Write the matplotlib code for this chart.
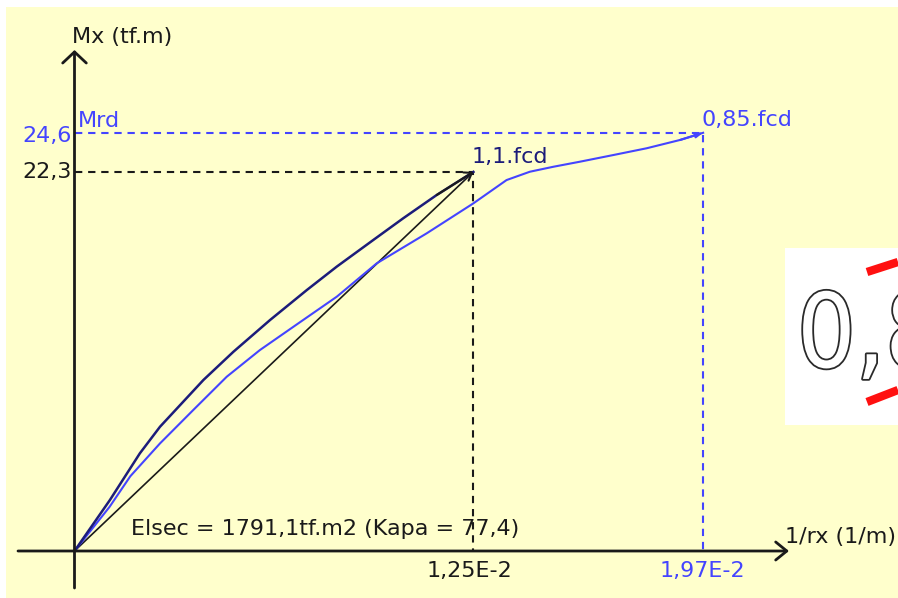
import matplotlib
matplotlib.use('Agg')
import matplotlib.pyplot as plt
from matplotlib.lines import Line2D
from matplotlib.patches import Rectangle
import matplotlib.patheffects as pe

# ---------------- data ----------------
curv_11 = [0, 0.00111, 0.00205, 0.00268, 0.00404, 0.00498, 0.00613, 0.00728,
           0.00822, 0.00936, 0.01030, 0.01135, 0.0125]
mom_11 = [0, 3.0, 5.75, 7.31, 10.06, 11.72, 13.59, 15.35, 16.73, 18.29,
          19.57, 20.94, 22.3]
curv_085 = [0, 0.0011, 0.00175, 0.00268, 0.00372, 0.00477, 0.00581, 0.00686,
            0.00822, 0.00947, 0.01104, 0.0125, 0.01354, 0.01427, 0.015,
            0.01584, 0.01688, 0.01793, 0.01898, 0.0197]
mom_085 = [0, 2.6, 4.4, 6.33, 8.29, 10.25, 11.82, 13.19, 14.96, 16.92,
           18.69, 20.45, 21.82, 22.31, 22.6, 22.9, 23.29, 23.69, 24.18, 24.6]
secant_curv = [0, 0.0125]
secant_mom = [0, 22.3]
k_11, m_11 = 0.0125, 22.3
k_rd, m_rd = 0.0197, 24.6
lbl_k11, lbl_krd = "1,25E-2", "1,97E-2"
lbl_m11, lbl_mrd = "22,3", "24,6"
lbl_fcd11, lbl_fcd085 = "1,1.fcd", "0,85.fcd"
lbl_y, lbl_x = "Mx (tf.m)", "1/rx (1/m)"
lbl_mrd_name = "Mrd"
lbl_info = "Elsec = 1791,1tf.m2 (Kapa = 77,4)"
lbl_inset = "0,8"

# ---------------- layout ----------------
W, H = 898, 598
PX0, PY0 = 74.5, 551.0     # pixel position of origin
SX, SY = 31910.0, 17.0     # pixels per data unit

BG = '#FFFFCC'
BLUE = '#4444FF'
NAVY = '#1C1C7A'
DARK = '#1a1a1a'
FS = 16

fig = plt.figure(figsize=(W / 100, H / 100), dpi=100)
fig.patch.set_facecolor('white')
fig.patches.append(Rectangle((6 / W, 0), 1, 1 - 7 / H, transform=fig.transFigure,
                             facecolor=BG, edgecolor='none', zorder=-10))
ax = fig.add_axes([0, 0, 1, 1], zorder=1)
ax.set_facecolor('none')
ax.patch.set_alpha(0)
ax.set_xlim(-PX0 / SX, (W - PX0) / SX)
ax.set_ylim(-(H - PY0) / SY, PY0 / SY)
ax.axis('off')


def px_x(px):
    return (px - PX0) / SX


def px_y(py):
    return (PY0 - py) / SY


# axes with open arrow heads
ax.annotate('', xy=(px_x(789), 0), xytext=(px_x(18), 0),
            arrowprops=dict(arrowstyle='->,head_length=0.8,head_width=0.65',
                            lw=2, color=DARK, mutation_scale=10,
                            shrinkA=0, shrinkB=0))
ax.annotate('', xy=(0, px_y(50)), xytext=(0, px_y(588)),
            arrowprops=dict(arrowstyle='->,head_length=0.8,head_width=0.85',
                            lw=2, color=DARK, mutation_scale=10,
                            shrinkA=0, shrinkB=0))

# dashed reference lines
dash = (0, (3.5, 2.8))
ax.plot([0, k_11, k_11], [m_11, m_11, 0], color=DARK, lw=1.5, linestyle=dash)
ax.plot([0, k_rd, k_rd], [m_rd, m_rd, 0], color=BLUE, lw=1.5, linestyle=dash)

# curves
ax.plot(secant_curv, secant_mom, color=DARK, lw=1.2)
ax.plot(curv_085, mom_085, color=BLUE, lw=1.5)
ax.plot(curv_11, mom_11, color=NAVY, lw=1.8)

# small arrow heads at curve ends
ax.annotate('', xy=(curv_11[-1], mom_11[-1]), xytext=(curv_11[-2], mom_11[-2]),
            arrowprops=dict(arrowstyle='->,head_length=0.5,head_width=0.35',
                            lw=1.5, color=DARK, mutation_scale=10,
                            shrinkA=0, shrinkB=0))
ax.annotate('', xy=(curv_085[-1], mom_085[-1]), xytext=(curv_085[-2], mom_085[-2]),
            arrowprops=dict(arrowstyle='-|>,head_length=0.4,head_width=0.15',
                            lw=1.5, color=BLUE, mutation_scale=10,
                            shrinkA=0, shrinkB=0))

tk = dict(textcoords='offset pixels', fontsize=FS, va='baseline')
ax.annotate(lbl_k11, xy=(k_11, 0), xytext=(-4, -26), ha='center', color=DARK, **tk)
ax.annotate(lbl_krd, xy=(k_rd, 0), xytext=(-1, -26), ha='center', color=BLUE, **tk)
ax.annotate(lbl_m11, xy=(0, m_11), xytext=(-3, -6), ha='right', color=DARK, **tk)
ax.annotate(lbl_mrd, xy=(0, m_rd), xytext=(-3, -9.5), ha='right', color=BLUE, **tk)
ax.annotate(lbl_mrd_name, xy=(0, m_rd), xytext=(3, 6), ha='left', color=BLUE, **tk)
ax.annotate(lbl_fcd11, xy=(k_11, m_11), xytext=(-2, 9), ha='left', color=NAVY, **tk)
ax.annotate(lbl_fcd085, xy=(k_rd, m_rd), xytext=(-2, 7), ha='left', color=BLUE, **tk)

ax.text(px_x(72), px_y(43), lbl_y, fontsize=FS, color=DARK, ha='left', va='baseline')
ax.text(px_x(785), px_y(543), lbl_x, fontsize=FS, color=DARK, ha='left', va='baseline')
ax.text(px_x(131), px_y(535), lbl_info, fontsize=FS, color=DARK, ha='left',
        va='baseline', zorder=1)

# pasted white inset on the right
ax2 = fig.add_axes([785 / W, 1 - 425 / H, (W - 785) / W, (425 - 248) / H], zorder=5)
ax2.set_xlim(0, 1)
ax2.set_ylim(0, 1)
ax2.set_facecolor('white')
for s in ax2.spines.values():
    s.set_visible(False)
ax2.set_xticks([])
ax2.set_yticks([])
t = ax2.text(12 / (W - 785), (425 - 367) / (425 - 248), lbl_inset, fontsize=74,
             color='white', family='DejaVu Sans', fontstretch='condensed',
             ha='left', va='baseline', clip_on=True)
t.set_path_effects([pe.Stroke(linewidth=2.6, foreground='#2a2a2a'), pe.Normal()])
fig.lines.append(Line2D([867 / W, 1], [1 - 272 / H, 1 - 262 / H],
                        transform=fig.transFigure, color='#FF1010', lw=6,
                        solid_capstyle='butt', zorder=7))
fig.lines.append(Line2D([867 / W, 1], [1 - 402 / H, 1 - 390 / H],
                        transform=fig.transFigure, color='#FF1010', lw=6,
                        solid_capstyle='butt', zorder=7))

fig.savefig('out.png', dpi=100, facecolor=fig.get_facecolor())
